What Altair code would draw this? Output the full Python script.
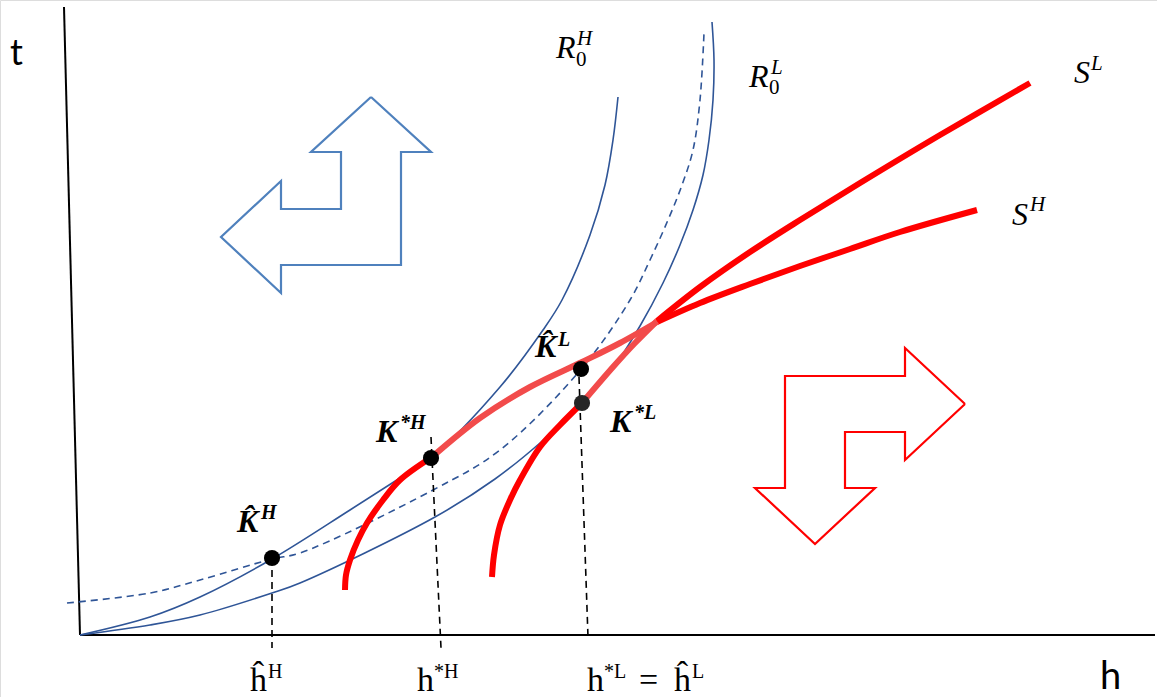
import altair as alt
import pandas as pd

# Diagram units: h grows to the right of the origin, t grows upward.
# Iso-R0 curves
r0h_h = [0, 70, 120, 192, 270, 320, 352, 420, 463, 482, 510, 525, 533, 538]
r0h_t = [0, 18, 38, 76, 125, 157, 178, 248, 305, 335, 400, 450, 495, 538]
r0l_h = [0, 70, 120, 192, 220, 355, 415, 460, 502, 533, 560, 583, 600, 613, 623, 629, 633, 634, 632]
r0l_t = [0, 10, 20, 42, 52, 118, 156, 192, 232, 267, 309, 352, 390, 425, 460, 495, 535, 575, 613]
r0d_h = [-13, 70, 120, 192, 220, 353, 420, 502, 550, 570, 588, 602, 613, 620, 624]
r0d_t = [32, 42, 55, 76, 82, 145, 185, 267, 335, 375, 415, 450, 485, 535, 602]

# S curves, split into the lower solid part, the pale middle part and the upper solid part
sh_low_h = [265, 266, 270, 278, 287, 303, 320, 352]
sh_low_t = [45, 60, 75, 95, 112, 135, 155, 178]
sh_mid_h = [352, 400, 450, 502, 540, 577]
sh_mid_t = [178, 217, 248, 273, 292, 313]
sh_up_h = [577, 620, 670, 720, 770, 820, 897]
sh_up_t = [313, 332, 351, 369, 386, 403, 425]

sl_low_h = [412, 414, 420, 430, 440, 460, 480, 502]
sl_low_t = [58, 80, 110, 135, 155, 188, 210, 232]
sl_mid_h = [502, 533, 555, 577]
sl_mid_t = [232, 268, 292, 314]
sl_up_h = [577, 620, 670, 720, 780, 860, 950]
sl_up_t = [314, 348, 383, 415, 452, 500, 552]

# Equilibrium points
pt_names = ["K^H", "K*H", "K^L", "K*L"]
pt_h = [192, 351, 501, 502]
pt_t = [77, 177, 266, 232]
pt_fill = ["black", "black", "black", "#262626"]

# Vertical guides down to the h axis (top and bottom ends)
guide_h = [[192, 192], [351, 361], [499, 508]]
guide_t = [[77, -13], [198, -13], [258, -2]]

# Axes
yaxis_h = [-16, 0]
yaxis_t = [628, 0]
xaxis_h = [0, 1075]
xaxis_t = [0, 0]

# Direction arrows (outline polygons)
blue_arrow_h = [291, 351, 321, 321, 201, 201, 141, 201, 201, 261, 261, 231, 291]
blue_arrow_t = [538, 483, 483, 370, 370, 342, 398, 454, 426, 426, 483, 483, 538]
red_arrow_h = [885, 825, 825, 705, 705, 675, 735, 795, 765, 765, 825, 825, 885]
red_arrow_t = [231, 287, 259, 259, 147, 147, 91, 147, 147, 203, 203, 175, 231]

# Labels: text, h, t, font size
axis_labels = [("t", -70, 570, 36), ("h", 1020, -54, 38)]
italic_labels = [
    ("R", 476, 577, 32), ("H", 497, 590, 21),
    ("R", 669, 548, 32), ("L", 691, 561, 21),
    ("S", 994, 552, 32), ("L", 1011, 565, 21),
    ("S", 932, 410, 32), ("H", 950, 424, 21),
]
roman_labels = [
    ("0", 496, 569, 21), ("0", 689, 541, 21),
    ("\u0125", 170, -56, 34), ("H", 188, -43, 20),
    ("h", 337, -56, 34), ("*H", 354, -43, 20),
    ("h", 507, -56, 34), ("*L", 524, -43, 20),
    ("=", 559, -56, 34),
    ("\u0125", 594, -56, 34), ("L", 612, -43, 20),
]
bold_labels = [
    ("K\u0302", 157, 103, 32), ("H", 181, 116, 20),
    ("K", 296, 193, 32), ("*H", 320, 206, 20),
    ("K\u0302", 455, 278, 32), ("L", 478, 289, 20),
    ("K", 530, 203, 32), ("*L", 554, 216, 20),
]

X = alt.X("h:Q", scale=alt.Scale(domain=[-80, 1077], nice=False, zero=False), axis=None)
Y = alt.Y("t:Q", scale=alt.Scale(domain=[-62, 635], nice=False, zero=False), axis=None)


def path(hs, ts):
    return pd.DataFrame({"h": hs, "t": ts, "k": list(range(len(hs)))})


def line(hs, ts, color, width, dash=None, interp="linear", cap="butt"):
    kw = dict(color=color, strokeWidth=width, interpolate=interp, strokeCap=cap, strokeJoin="miter")
    if dash:
        kw["strokeDash"] = dash
    return alt.Chart(path(hs, ts)).mark_line(**kw).encode(x=X, y=Y, order=alt.Order("k:Q"))


def labels(rows, font, style="normal", weight="normal"):
    df = pd.DataFrame(rows, columns=["text", "h", "t", "size"])
    return alt.Chart(df).mark_text(
        align="left", baseline="alphabetic", font=font, fontStyle=style,
        fontWeight=weight, color="black"
    ).encode(x=X, y=Y, text="text:N", size=alt.Size("size:Q", scale=None, legend=None))


BLUE = "#2F5597"
RED = "#FF0000"
PALE = "#F24B4B"

layers = [
    line(yaxis_h, yaxis_t, "black", 2),
    line(xaxis_h, xaxis_t, "black", 2),
    line(r0h_h, r0h_t, BLUE, 1.6, interp="catmull-rom"),
    line(r0l_h, r0l_t, BLUE, 1.6, interp="catmull-rom"),
    line(r0d_h, r0d_t, BLUE, 1.6, dash=[7, 5], interp="catmull-rom"),
]
for gh, gt in zip(guide_h, guide_t):
    layers.append(line(gh, gt, "black", 1.6, dash=[7, 5]))
layers += [
    line(sh_low_h, sh_low_t, RED, 6, interp="catmull-rom"),
    line(sh_mid_h, sh_mid_t, PALE, 6, interp="catmull-rom"),
    line(sh_up_h, sh_up_t, RED, 6, interp="catmull-rom"),
    line(sl_low_h, sl_low_t, RED, 6, interp="catmull-rom"),
    line(sl_mid_h, sl_mid_t, PALE, 6, interp="catmull-rom"),
    line(sl_up_h, sl_up_t, RED, 6, interp="catmull-rom"),
    line(blue_arrow_h, blue_arrow_t, "#4F81BD", 2.2),
    line(red_arrow_h, red_arrow_t, RED, 2.2),
]

pts = pd.DataFrame({"name": pt_names, "h": pt_h, "t": pt_t, "fill": pt_fill})
layers.append(
    alt.Chart(pts).mark_circle(size=260, opacity=1).encode(
        x=X, y=Y, color=alt.Color("fill:N", scale=None)
    )
)

layers += [
    labels(axis_labels, "Lato"),
    labels(italic_labels, "Liberation Serif", style="italic"),
    labels(roman_labels, "Liberation Serif"),
    labels(bold_labels, "Liberation Serif", style="italic", weight="bold"),
]

chart = alt.layer(*layers).properties(
    width=1157, height=697, autosize=alt.AutoSizeParams(type="none"), padding=0
).configure_view(stroke=None).configure(background="white")

chart.save("out.html", embed_options={"renderer": "svg", "actions": False})
